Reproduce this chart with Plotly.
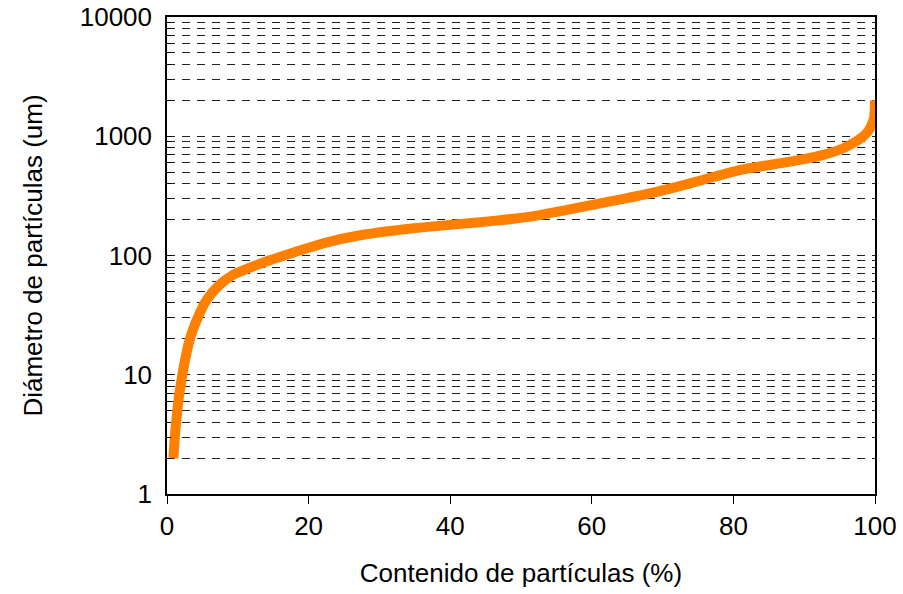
import plotly.graph_objects as go

contenido = [0.9, 1.2, 1.8, 3.2, 4.4, 5.6, 7.4, 9.3, 11.7, 14.0, 17.9, 22.6, 27.3, 33.9,
             42.3, 46.5, 51.8, 56.5, 61.2, 68.2, 73.9, 80.9, 88.0, 92.7, 96.0, 98.8, 99.8, 100.0]
diametro = [2.0, 3.5, 7.3, 19.6, 30.7, 42.4, 56.6, 68.6, 79, 89, 106, 129, 148, 167,
            186, 196, 214, 241, 274, 332, 403, 521, 612, 697, 818, 1059, 1369, 2000]

x_ticks = [0, 20, 40, 60, 80, 100]
y_ticks = [1, 10, 100, 1000, 10000]
y_ticklabels = ["1", "10", "100", "1000", "10000"]

fig = go.Figure()
fig.add_trace(go.Scatter(
    x=contenido, y=diametro, mode="lines",
    line=dict(color="#FF8000", width=10, shape="spline", smoothing=0.8),
    showlegend=False,
))

font = dict(family="Liberation Sans, Arial, sans-serif", size=26, color="black")

fig.update_layout(
    width=903, height=594,
    margin=dict(l=167, r=28, t=17, b=100),
    paper_bgcolor="white", plot_bgcolor="white",
    font=font,
    xaxis=dict(
        range=[0, 100], tickvals=x_ticks, ticks="outside", ticklen=8,
        tickcolor="black", showline=True, linecolor="black", linewidth=1.5,
        mirror=True, showgrid=False, zeroline=False, automargin=False,
        title=dict(text="Contenido de partículas (%)", font=font, standoff=24),
        tickfont=font,
    ),
    yaxis=dict(
        type="log", range=[0, 4], tickvals=y_ticks, ticktext=y_ticklabels,
        ticks="inside", ticklen=5, tickcolor="black",
        showline=True, linecolor="black", linewidth=1.5, mirror=True,
        showgrid=True, gridcolor="#222", gridwidth=1, griddash="8px,7px",
        zeroline=False, ticklabelstandoff=8, automargin=False,
        minor=dict(dtick="D1", ticks="inside", ticklen=4, tickcolor="black",
                   showgrid=True, gridcolor="#222", gridwidth=1, griddash="8px,7px"),
        title=dict(text="Diámetro de partículas (um)", font=font, standoff=30),
        tickfont=font,
    ),
)

fig.write_html("out.html", config={"displayModeBar": False},
               post_script="document.body.style.margin='0';document.body.style.padding='0';")
